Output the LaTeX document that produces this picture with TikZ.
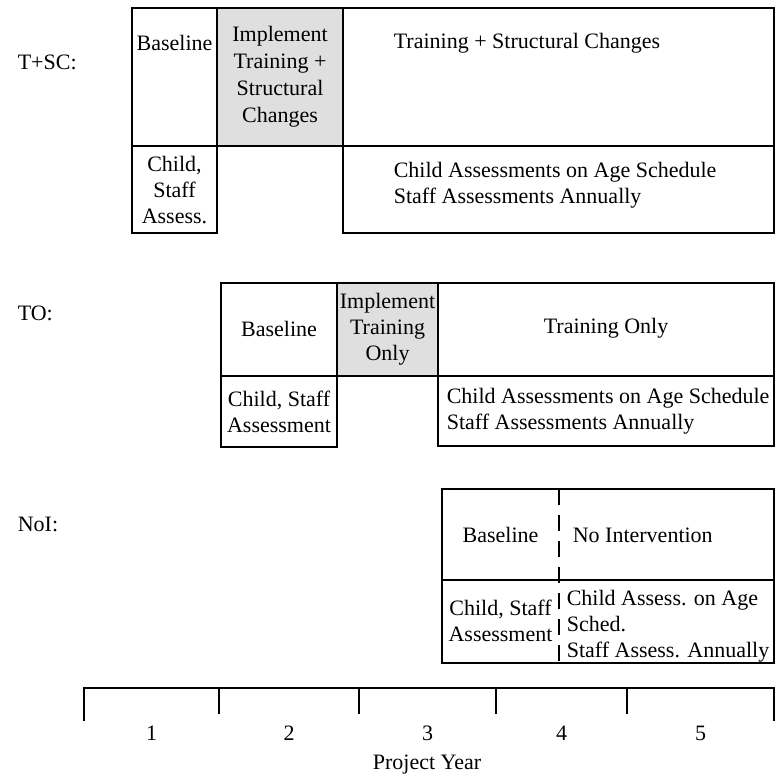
\documentclass[tikz,border=0pt]{standalone}
\usepackage{fontspec}
\setmainfont{Liberation Serif}
\usepackage{tikz}

\begin{document}
\begin{tikzpicture}[x=0.5pt,y=-0.5pt,thick,every node/.style={inner sep=0pt,align=center},font=\fontsize{11}{13}\selectfont]
			\useasboundingbox (0,0) rectangle (775,779);
			% T+SC
			\fill[gray!25] (217,8) rectangle (343,146);
			\draw (132,8) rectangle (774,146);
			\draw (217,8) -- (217,146);
			\draw (343,8) -- (343,146);
			\draw (132,146) rectangle (217,233);
			\draw (343,146) rectangle (774,233);
			\node[anchor=west] (tsc) at (17,62) {T+SC:};
			\node (tscbase) at (174.5,43) {Baseline};
			\node[font=\fontsize{11}{13.5}\selectfont] (tscimpl) at (280,76.5) {Implement\\Training +\\Structural\\Changes};
			\node[anchor=west] (tsctrain) at (393,43) {Training + Structural Changes};
			\node (tscassess) at (174.5,190) {Child,\\Staff\\Assess.};
			\node[anchor=west,align=left] (tscsched) at (393,185) {Child Assessments on Age Schedule\\Staff Assessments Annually};
			% TO
			\fill[gray!25] (337,283) rectangle (438,376);
			\draw (221,283) rectangle (774,376);
			\draw (337,283) -- (337,376);
			\draw (438,283) -- (438,376);
			\draw (221,376) rectangle (337,447);
			\draw (438,376) rectangle (774,446);
			\node[anchor=west] (to) at (17,313) {TO:};
			\node (tobase) at (279,329) {Baseline};
			\node (toimpl) at (387.5,329.5) {Implement\\Training\\Only};
			\node (totrain) at (606,328) {Training Only};
			\node (toassess) at (279,411.5) {Child, Staff\\Assessment};
			\node[anchor=west,align=left] (tosched) at (446,411.5) {Child Assessments on Age Schedule\\Staff Assessments Annually};
			% NoI
			\draw (442,489) rectangle (774,580);
			\draw (442,580) rectangle (774,663);
			\draw[dash pattern=on 8pt off 5pt] (559,489) -- (559,663);
			\node[anchor=west] (noi) at (17,524) {NoI:};
			\node (noibase) at (500.5,535) {Baseline};
			\node[anchor=west] (noinone) at (572,535) {No Intervention};
			\node (noiassess) at (500.5,621) {Child, Staff\\Assessment};
			\node[anchor=west,align=left] (noisched) at (566,626.5) {Child Assess. on Age\\Sched.\\Staff Assess. Annually};
			% project years
			\draw (84,721) -- (84,688) -- (774,688) -- (774,721);
			\draw (219,688) -- (219,714);
			\draw (359,688) -- (359,714);
			\draw (496,688) -- (496,714);
			\draw (627,688) -- (627,714);
			\node (y1) at (151.5,733) {1};
			\node (y2) at (289,733) {2};
			\node (y3) at (427.5,733) {3};
			\node (y4) at (561.5,733) {4};
			\node (y5) at (700.5,733) {5};
			\node (year) at (427,765) {Project Year};
		\end{tikzpicture}
\end{document}
